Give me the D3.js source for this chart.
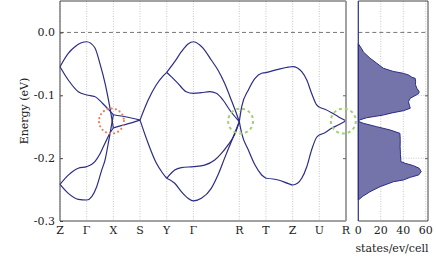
<!DOCTYPE html>
<html>
<head>
<meta charset="utf-8">
<script src="https://cdn.jsdelivr.net/npm/d3@7"></script>
<style>
  body { margin: 0; background: #fff; }
</style>
</head>
<body>
<svg id="chart" width="436" height="261"></svg>
<script>
// k-path
const kTicks = [0, 1, 2, 3, 4, 5, 6.72, 7.72, 8.72, 9.72, 10.72];
const kLabels = ["Z", "Γ", "X", "S", "Y", "Γ", "R", "T", "Z", "U", "R"];
const smoothK = [1, 5, 8.72];   // bands pass these points without a kink
const eTicks = [0, -0.1, -0.2, -0.3];
const dosTicks = [0, 20, 40, 60];

// band pieces [k, E(eV)]
const zxTop = [[0,-0.0545],[0.31,-0.0332],[0.56,-0.0227],[0.8,-0.0165],[1,-0.0148],[1.3,-0.024],[1.5,-0.05],[1.7,-0.083],[1.85,-0.115],[2,-0.152]];
const zxShoulder = [[0,-0.0545],[0.31,-0.0757],[0.686,-0.0943],[1,-0.0995],[1.3,-0.102],[1.6,-0.113],[1.85,-0.124],[2,-0.131]];
const zxLow1 = [[0,-0.2417],[0.311,-0.227],[0.686,-0.216],[1,-0.2135],[1.3,-0.206],[1.5,-0.193],[1.7,-0.175],[1.874,-0.16],[2,-0.152]];
const zxLow2 = [[0,-0.2417],[0.311,-0.256],[0.686,-0.2655],[1,-0.2666],[1.376,-0.2454],[1.563,-0.219],[1.687,-0.203],[1.837,-0.17],[2,-0.131]];
const xsUpper = [[2,-0.131],[2.5,-0.1345],[3,-0.1395]];
const xsLower = [[2,-0.152],[2.5,-0.146],[3,-0.1395]];
const syUpper = [[3,-0.1395],[3.3,-0.108],[3.6,-0.084],[3.85,-0.07],[4,-0.0635]];
const syLower = [[3,-0.1395],[3.3,-0.176],[3.6,-0.207],[3.85,-0.224],[4,-0.232]];
const yrTop = [[4,-0.0635],[4.3,-0.0465],[4.55,-0.0307],[4.8,-0.0184],[5,-0.0148],[5.24,-0.02],[5.42,-0.028],[5.67,-0.0439],[5.92,-0.0598],[6.17,-0.081],[6.42,-0.1075],[6.61,-0.1287],[6.72,-0.142]];
const yrShoulder = [[4,-0.0635],[4.17,-0.0704],[4.42,-0.081],[4.73,-0.0943],[5,-0.097],[5.3,-0.0959],[5.61,-0.0943],[5.86,-0.0968],[6.11,-0.1075],[6.36,-0.1234],[6.72,-0.142]];
const yrLow1 = [[4,-0.232],[4.3,-0.2189],[4.55,-0.2151],[5,-0.2135],[5.42,-0.211],[5.8,-0.203],[6.05,-0.1925],[6.3,-0.179],[6.55,-0.162],[6.72,-0.142]];
const yrLow2 = [[4,-0.232],[4.3,-0.24],[4.55,-0.2534],[4.8,-0.2639],[5,-0.268],[5.3,-0.2639],[5.67,-0.248],[5.92,-0.2268],[6.17,-0.2],[6.42,-0.1738],[6.72,-0.142]];
const rrUpper = [[6.72,-0.142],[6.81,-0.118],[7.06,-0.0916],[7.31,-0.073],[7.56,-0.065],[7.72,-0.064],[8.18,-0.0587],[8.56,-0.0552],[8.72,-0.0545],[8.9,-0.0565],[9.06,-0.0625],[9.25,-0.0757],[9.43,-0.0968],[9.62,-0.1154],[9.72,-0.119],[9.93,-0.1223],[10.18,-0.1277],[10.43,-0.134],[10.72,-0.1405]];
const rrLower = [[6.72,-0.142],[6.81,-0.1605],[7.06,-0.187],[7.31,-0.211],[7.56,-0.2268],[7.72,-0.232],[8.18,-0.2348],[8.56,-0.2405],[8.72,-0.2427],[8.9,-0.24],[9.06,-0.232],[9.25,-0.2136],[9.43,-0.187],[9.62,-0.1668],[9.72,-0.163],[9.93,-0.1595],[10.18,-0.1525],[10.43,-0.1473],[10.72,-0.1405]];

// density of states
const dosEnergy = [-0.018,-0.026,-0.031,-0.041,-0.049,-0.057,-0.062,-0.065,-0.068,-0.0714,-0.073,-0.078,-0.083,-0.089,-0.0943,-0.0975,-0.0995,-0.1048,-0.1102,-0.116,-0.1207,-0.1245,-0.128,-0.1314,-0.1357,-0.1393,-0.1415,-0.1446,-0.15,-0.1552,-0.1605,-0.17,-0.182,-0.194,-0.2056,-0.2082,-0.212,-0.2162,-0.2215,-0.2268,-0.2305,-0.2348,-0.2375,-0.2454,-0.2534,-0.2606,-0.2666];
const dosStates = [0,3,4.5,10.4,16.4,22.3,31,40,45,47.7,50.6,51,50.8,52.1,54.2,53.5,51.5,46.2,44.6,45.5,46.2,40.2,30,22.3,7.5,1,0,4.5,16.4,28.3,37,37.3,37.2,37.5,37.9,41.7,49.1,54.2,56,53.6,46.2,40,31.3,19.4,10.4,4,0];

function join(...segs) {
  let out = [];
  segs.forEach(s => {
    s.forEach(p => {
      if (out.length && Math.abs(out[out.length-1][0] - p[0]) < 1e-9) return;
      out.push(p);
    });
  });
  return out;
}
const bands = [
  join(zxTop, xsLower, syUpper, yrTop, rrLower),
  join(zxShoulder, xsUpper, syUpper, yrShoulder, rrLower),
  join(zxLow1, xsLower, syLower, yrLow1, rrUpper),
  join(zxLow2, xsUpper, syLower, yrLow2, rrUpper)
];

const serif = "'DejaVu Serif', 'Liberation Serif', 'Times New Roman', serif";
const svg = d3.select('#chart');
const navy = '#2b2d86';
const x = d3.scaleLinear().domain([0, 10.72]).range([60, 346]);
const y = d3.scaleLinear().domain([-0.3, 0.05]).range([221, 1]);
const dx = d3.scaleLinear().domain([0, 62]).range([358.3, 428]);

// vertical grid, main panel
svg.append('g').selectAll('line').data(kTicks).join('line')
  .attr('x1', d => x(d)).attr('x2', d => x(d)).attr('y1', y(0.05)).attr('y2', y(-0.3))
  .attr('stroke', '#b8b8b8').attr('stroke-width', 0.8).attr('stroke-dasharray', '1,1.5');
// grid, dos panel
svg.append('g').selectAll('line').data(dosTicks.slice(1)).join('line')
  .attr('x1', d => dx(d)).attr('x2', d => dx(d)).attr('y1', y(0.05)).attr('y2', y(-0.3))
  .attr('stroke', '#b8b8b8').attr('stroke-width', 0.8).attr('stroke-dasharray', '1,1.5');
svg.append('g').selectAll('line').data([-0.1, -0.2]).join('line')
  .attr('x1', dx(0)).attr('x2', dx(62)).attr('y1', d => y(d)).attr('y2', d => y(d))
  .attr('stroke', '#b8b8b8').attr('stroke-width', 0.8).attr('stroke-dasharray', '1,1.5');

// fermi level
[[0, 10.72, x], [0, 62, dx]].forEach(([a, b, s]) => {
  svg.append('line').attr('x1', s(a)).attr('x2', s(b)).attr('y1', y(0)).attr('y2', y(0))
    .attr('stroke', '#777').attr('stroke-width', 1).attr('stroke-dasharray', '4,3');
});

// bands, split at the kinks
const kinks = kTicks.filter(k => !smoothK.includes(k));
const line = d3.line().x(d => x(d[0])).y(d => y(d[1])).curve(d3.curveMonotoneX);
let pieces = [], seen = new Set();
bands.forEach(b => {
  let cur = [b[0]];
  for (let i = 1; i < b.length; i++) {
    cur.push(b[i]);
    if (kinks.some(k => Math.abs(k - b[i][0]) < 1e-9)) {
      const key = JSON.stringify(cur);
      if (!seen.has(key)) { seen.add(key); pieces.push(cur); }
      cur = [b[i]];
    }
  }
});
svg.append('g').selectAll('path').data(pieces).join('path')
  .attr('d', line).attr('fill', 'none').attr('stroke', navy).attr('stroke-width', 1.2);

// dos area
const dosData = dosEnergy.map((e, i) => ({e: e, v: dosStates[i]}));
svg.append('path').datum(dosData)
  .attr('d', d3.area().y(d => y(d.e)).x0(dx(0)).x1(d => dx(d.v)))
  .attr('fill', '#7474aa').attr('stroke', navy).attr('stroke-width', 1);

// frames
svg.append('path').attr('d', `M${x(10.72)},${y(0.05)}H${x(0)}V${y(-0.3)}H${x(10.72)}`)
  .attr('fill', 'none').attr('stroke', '#444').attr('stroke-width', 1);
svg.append('line').attr('x1', x(10.72)).attr('x2', x(10.72)).attr('y1', y(0.05)).attr('y2', y(-0.3))
  .attr('stroke', '#999').attr('stroke-width', 1.8);
svg.append('path').attr('d', `M${dx(0)},${y(0.05)}H${dx(62)}V${y(-0.3)}H${dx(0)}`)
  .attr('fill', 'none').attr('stroke', '#444').attr('stroke-width', 1);
svg.append('line').attr('x1', dx(0)).attr('x2', dx(0)).attr('y1', y(0.05)).attr('y2', y(-0.3))
  .attr('stroke', navy).attr('stroke-width', 1.2);

// y ticks
const fmt = d => d3.format('.1f')(d).replace('−', '-');
const ya = svg.append('g').attr('transform', `translate(${x(0)},0)`)
  .call(d3.axisLeft(y).tickValues(eTicks).tickSize(-3).tickPadding(5).tickFormat(fmt));
ya.select('.domain').remove();
ya.selectAll('line').attr('stroke', '#444');
ya.attr('font-family', null).attr('font-size', null);
ya.selectAll('text').style('font-family', serif).style('font-size', '11px').attr('fill', '#222');
[x(10.72), dx(62)].forEach(px => {
  const g = svg.append('g').attr('transform', `translate(${px},0)`)
    .call(d3.axisRight(y).tickValues([-0.1, -0.2]).tickSize(-3).tickFormat(''));
  g.select('.domain').remove();
  g.selectAll('line').attr('stroke', '#666');
});

// x labels
const labels = svg.append('g');
labels.selectAll('text.k').data(kTicks).join('text').attr('class', 'k')
  .attr('x', d => x(d)).attr('y', 234).attr('text-anchor', 'middle')
  .text((d, i) => kLabels[i]);
labels.selectAll('text.d').data(dosTicks).join('text').attr('class', 'd')
  .attr('x', d => dx(d)).attr('y', 234).attr('text-anchor', 'middle')
  .text(d => d);
labels.append('text').attr('x', 392).attr('y', 252).attr('text-anchor', 'middle').text('states/ev/cell');
labels.append('text').attr('transform', `translate(28,${y(-0.125)}) rotate(-90)`)
  .attr('text-anchor', 'middle').text('Energy (eV)');
labels.selectAll('text').style('font-family', serif).style('font-size', '11px').style('fill', '#222');

// highlighted crossings
svg.append('circle').attr('cx', x(1.93)).attr('cy', y(-0.141)).attr('r', 12.5)
  .attr('fill', 'none').attr('stroke', '#f07a5a').attr('stroke-width', 2.2)
  .attr('stroke-linecap', 'round').attr('stroke-dasharray', '0,4.2');
[6.77, 10.62].forEach(k => {
  svg.append('circle').attr('cx', x(k)).attr('cy', y(-0.141)).attr('r', 12.5)
    .attr('fill', 'none').attr('stroke', '#a3d16e').attr('stroke-width', 2)
    .attr('stroke-dasharray', '3,3');
});
</script>
</body>
</html>
